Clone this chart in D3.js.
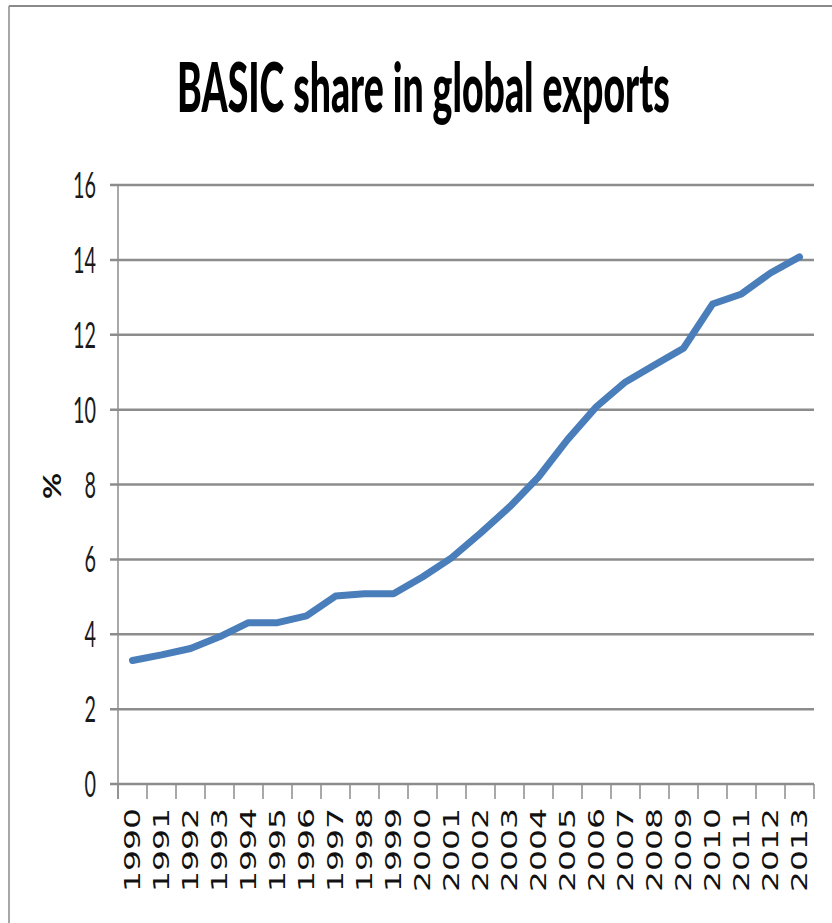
<!DOCTYPE html>
<html>
<head>
<meta charset="utf-8">
<script src="https://cdn.jsdelivr.net/npm/d3@7"></script>
<style>
  html, body { margin: 0; padding: 0; background: #fff; }
  svg { display: block; }
</style>
</head>
<body>
<svg id="chart" width="832" height="923"></svg>
<script>
// chart data
const years = ["1990","1991","1992","1993","1994","1995","1996","1997","1998","1999","2000","2001",
               "2002","2003","2004","2005","2006","2007","2008","2009","2010","2011","2012","2013"];
const shares = [3.3, 3.45, 3.62, 3.93, 4.31, 4.31, 4.49, 5.02, 5.08, 5.08, 5.53, 6.04,
                6.7, 7.4, 8.2, 9.2, 10.08, 10.74, 11.19, 11.64, 12.82, 13.09, 13.65, 14.08];
const yTicks = [0, 2, 4, 6, 8, 10, 12, 14, 16];
const titleText = "BASIC share in global exports";
const yLabel = "%";

const W = 832, H = 923;
const plotLeft = 118, plotRight = 814, plotTop = 185, plotBottom = 784;
const gridColor = "#8c8c8c";
const lineColor = "#4a7ebb";

const svg = d3.select("#chart");

// outer frame (top + left edges visible in the picture)
svg.append("line").attr("x1", 9).attr("x2", W).attr("y1", 6).attr("y2", 6)
  .attr("stroke", "#8a8a8a").attr("stroke-width", 2);
svg.append("line").attr("x1", 9).attr("x2", 9).attr("y1", 6).attr("y2", H)
  .attr("stroke", "#8a8a8a").attr("stroke-width", 1.5);

const x = d3.scaleBand().domain(years).range([plotLeft, plotRight]);
const y = d3.scaleLinear().domain([0, 16]).range([plotBottom, plotTop]);

// horizontal gridlines (they also serve as y tick marks)
svg.append("g").selectAll("line").data(yTicks).join("line")
  .attr("x1", plotLeft - 8).attr("x2", plotRight)
  .attr("y1", d => y(d)).attr("y2", d => y(d))
  .attr("stroke", gridColor).attr("stroke-width", 2.5);

// y axis line
svg.append("line").attr("x1", plotLeft).attr("x2", plotLeft)
  .attr("y1", plotTop).attr("y2", plotBottom + 15)
  .attr("stroke", gridColor).attr("stroke-width", 1.5);

// x tick marks at category boundaries
const bounds = years.map(d => x(d)).concat([plotRight]);
svg.append("g").selectAll("line").data(bounds).join("line")
  .attr("x1", d => d).attr("x2", d => d)
  .attr("y1", plotBottom).attr("y2", plotBottom + 15)
  .attr("stroke", gridColor).attr("stroke-width", 1.5);

// y tick labels - narrow looking font, squeezed horizontally
const yLab = svg.append("g").selectAll("text").data(yTicks).join("text")
  .attr("text-anchor", "end")
  .attr("font-family", "Lato, 'Open Sans', sans-serif")
  .attr("font-size", 37)
  .attr("fill", "#1a1a1a")
  .text(d => d);
const w16 = yLab.filter(d => d === 16).node().getComputedTextLength();
const ySx = 23 / w16;
yLab.attr("transform", d => `translate(96,${y(d) + 13}) scale(${ySx},1)`);

// x tick labels, rotated
svg.append("g").selectAll("text").data(years).join("text")
  .attr("text-anchor", "end")
  .attr("font-family", "'DejaVu Sans', Verdana, sans-serif")
  .attr("font-size", 33)
  .attr("fill", "#111")
  .attr("transform", d => `translate(${x(d) + x.bandwidth() / 2 + 7.5},${plotBottom + 24}) scale(0.63,1) rotate(-90)`)
  .text(d => d);

// y axis title
svg.append("text")
  .attr("text-anchor", "middle")
  .attr("font-family", "Lato, 'Open Sans', sans-serif")
  .attr("font-weight", "bold")
  .attr("font-size", 32)
  .attr("fill", "#111")
  .attr("transform", "translate(61,486) scale(0.8,1) rotate(-90)")
  .text(yLabel);

// chart title, fitted to its width in the picture
const title = svg.append("text")
  .attr("text-anchor", "start")
  .attr("font-family", "Lato, 'Open Sans', sans-serif")
  .attr("font-weight", 900)
  .attr("font-size", 68)
  .attr("fill", "#000")
  .text(titleText);
const tw = title.node().getComputedTextLength();
title.attr("transform", `translate(177,112) scale(${493 / tw},1)`);

// the data line
const line = d3.line()
  .x((d, i) => x(years[i]) + x.bandwidth() / 2)
  .y(d => y(d));

svg.append("path")
  .datum(shares)
  .attr("d", line)
  .attr("fill", "none")
  .attr("stroke", lineColor)
  .attr("stroke-width", 7)
  .attr("stroke-linejoin", "round")
  .attr("stroke-linecap", "round");
</script>
</body>
</html>
